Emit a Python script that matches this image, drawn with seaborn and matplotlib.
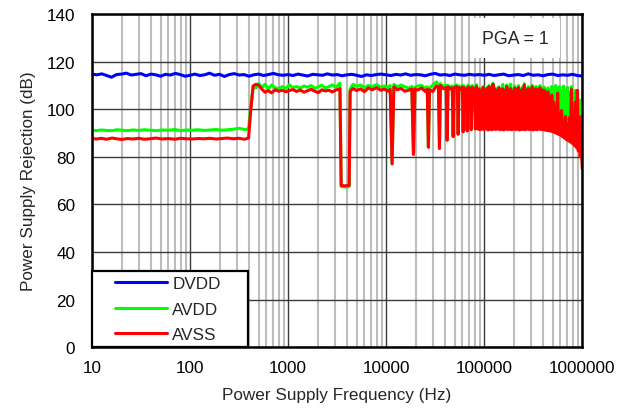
import numpy as np
import matplotlib
matplotlib.use("Agg")
import matplotlib.pyplot as plt
from matplotlib.lines import Line2D
from matplotlib.legend_handler import HandlerLine2D
from matplotlib.ticker import FixedLocator, LogLocator, NullFormatter
import seaborn as sns

# ---- data -----------------------------------------------------------------
# DVDD: its own (coarser) frequency sweep
DVDD_FREQ = [
    10, 11.2, 12.6, 14.1, 15.8, 17.8, 20, 22.4, 25.1, 28.2,
    31.6, 35.5, 39.8, 44.7, 50.1, 56.2, 63.1, 70.8, 79.4, 89.1,
    100, 112, 126, 141, 158, 178, 200, 224, 251, 282,
    316, 355, 398, 447, 501, 562, 631, 708, 794, 891,
    1000, 1120, 1260, 1410, 1580, 1780, 2000, 2240, 2510, 2820,
    3160, 3550, 3980, 4470, 5010, 5620, 6310, 7080, 7940, 8910,
    10000, 11200, 12600, 14100, 15800, 17800, 20000, 22400, 25100, 28200,
    31600, 35500, 39800, 44700, 50100, 56200, 63100, 70800, 79400, 89100,
    100000, 112000, 126000, 141000, 158000, 178000, 200000, 224000, 251000, 282000,
    316000, 355000, 398000, 447000, 501000, 562000, 631000, 708000, 794000, 891000,
    1000000,
]
DVDD_DB = [
    114.8, 114.5, 114.9, 114.2, 113.5, 114.6, 114.8, 115.2, 114.4, 114.7,
    115.0, 114.1, 114.8, 114.5, 113.9, 114.7, 114.4, 115.1, 114.6, 113.9,
    114.3, 114.8, 114.2, 114.5, 115.2, 114.3, 114.7, 113.8, 114.6, 115.0,
    114.4, 114.6, 113.9, 114.5, 114.8, 114.2, 114.6, 115.1, 114.5, 114.3,
    114.6, 114.2, 114.8, 114.4, 114.0, 114.7, 114.5, 114.3, 114.9, 114.4,
    114.6, 114.1, 114.5, 114.7, 114.3, 113.8, 114.5, 114.2, 114.6, 114.8,
    114.5, 114.2, 114.7, 114.4, 114.9, 114.3, 114.6, 114.5, 114.1, 114.7,
    115.1, 114.4, 114.6, 114.2, 114.8, 114.5, 114.3, 114.7, 114.4, 114.6,
    114.3, 114.7, 114.2, 114.5, 114.8, 114.1, 114.4, 114.6, 114.2, 114.9,
    114.3, 114.5, 114.1, 114.6, 114.8, 114.2, 114.5, 114.3, 114.7, 114.2,
    114.0,
]

# AVDD / AVSS share one sweep (the response chatters above ~87 kHz)
ANALOG_FREQ = [
    10, 11, 12.5, 14, 16, 18, 20, 23, 26, 30,
    34, 39, 45, 52, 60, 70, 80, 92, 105, 120,
    140, 160, 185, 210, 240, 275, 315, 360, 395,
    415, 440, 470, 500, 540, 580, 630, 680, 740, 800,
    870, 950, 1030, 1120, 1220, 1330, 1450, 1580, 1720, 1870,
    2030, 2210, 2400, 2600, 2830, 3080, 3380, 3480, 3800, 4200,
    4290, 4600, 5000, 5500, 6000, 6600, 7200, 8000, 8800, 9600,
    10400, 11000, 11500, 12000, 13000, 14200, 15500, 17000, 18300, 19000,
    19700, 21000, 23000, 25000, 26300, 27000, 27700, 30000, 32500, 34200,
    35000, 35800, 38500, 41000, 41900, 42800, 46000, 47300, 48300, 49300,
    52000, 53300, 54300, 55400, 58500, 60000, 61100, 62300, 65500, 67100,
    68500, 72000, 73700, 75300, 79500, 81500, 83500,
    87100, 89100, 91200, 93300, 95500, 97700, 100000, 102300, 104700, 107200,
    109600, 112200, 114800, 117500, 120200, 123000, 125900, 128800, 131800, 134900,
    138000, 141300, 144500, 147900, 151400, 154900, 158500, 162200, 166000, 169800,
    173800, 177800, 182000, 186200, 190500, 195000, 199500, 204200, 208900, 213800,
    218800, 223900, 229100, 234400, 239900, 245500, 251200, 257000, 263000, 269200,
    275400, 281800, 288400, 295100, 302000, 309000, 316200, 323600, 331100, 338800,
    346700, 354800, 363100, 371500, 380200, 389000, 398100, 407400, 416900, 426600,
    436500, 446700, 457100, 467700, 478600, 489800, 501200, 512900, 524800, 537000,
    549500, 562300, 575400, 588800, 602600, 616600, 631000, 645700, 660700, 676100,
    691800, 707900, 724400, 741300, 758600, 776200, 794300, 812800, 831800, 851100,
    871000, 891300, 912000, 933300, 955000, 977200, 1000000,
]
AVDD_DB = [
    91.2, 91.0, 91.3, 91.1, 91.0, 91.4, 91.2, 91.0, 91.3, 91.1,
    91.4, 91.2, 91.0, 91.3, 91.2, 91.5, 91.0, 91.3, 91.2, 91.4,
    91.1, 91.3, 91.5, 91.2, 91.4, 91.6, 92.0, 91.5, 91.7,
    100.5, 109.3, 109.0, 110.8, 109.2, 110.5, 108.6, 110.2, 109.0, 108.7,
    109.5, 108.8, 110.3, 109.1, 109.6, 108.9, 109.8, 109.3, 110.0, 108.8,
    109.4, 110.1, 109.0, 109.5, 110.3, 109.2, 111.0, 67.5, 67.3, 67.5,
    108.5, 110.5, 109.6, 110.2, 109.1, 110.0, 109.5, 110.4, 109.3, 109.8,
    109.2, 110.0, 77.5, 110.5, 109.4, 110.2, 109.5, 108.9, 109.6, 81.5,
    109.2, 109.8, 110.0, 108.8, 109.5, 84.2, 108.9, 110.2, 111.5, 110.4,
    83.7, 110.8, 109.5, 110.2, 87.1, 110.0, 109.3, 109.8, 88.6, 109.6,
    110.3, 109.5, 89.6, 109.9, 109.2, 110.1, 90.6, 109.8, 109.0, 91.0,
    110.2, 109.4, 91.5, 110.0, 109.3, 91.8, 110.4,
    92.0, 109.0, 92.0, 108.6, 92.2, 109.6, 92.0, 108.5, 92.1, 109.2,
    91.9, 110.0, 92.0, 108.2, 92.1, 111.0, 92.0, 109.0, 91.9, 108.6,
    92.0, 109.5, 92.1, 108.8, 92.0, 110.5, 91.9, 108.3, 92.0, 110.2,
    92.1, 109.5, 92.0, 110.6, 91.9, 108.5, 92.0, 109.8, 92.1, 109.0,
    92.0, 110.0, 91.9, 108.6, 92.0, 109.4, 92.0, 110.8, 91.9, 108.6,
    92.0, 109.5, 92.1, 108.4, 92.0, 110.2, 91.9, 109.0, 92.0, 109.6,
    92.1, 108.4, 92.0, 110.0, 91.9, 108.8, 92.0, 109.4, 91.8, 108.2,
    91.7, 109.0, 91.6, 107.8, 91.5, 109.6, 91.5, 108.4, 91.4, 110.0,
    91.3, 108.8, 91.2, 109.5, 91.1, 107.5, 91.0, 109.8, 90.8, 108.0,
    90.6, 109.2, 90.4, 107.0, 90.0, 109.5, 89.5, 106.5, 88.8, 108.0,
    88.0, 105.0, 86.5, 104.0, 83.0, 95.0, 77.5,
]
AVSS_DB = [
    87.7, 87.5, 87.8, 87.4, 87.9, 87.6, 87.3, 87.7, 87.5, 87.8,
    87.4, 87.6, 87.9, 87.5, 87.7, 87.4, 87.8, 87.6, 87.5, 87.7,
    87.6, 87.8, 87.5, 87.7, 87.9, 87.6, 87.8, 87.4, 87.9,
    99.0, 109.8, 110.5, 110.2, 108.5, 107.2, 107.8, 106.9, 108.2, 107.6,
    108.0, 107.4, 107.9, 108.3, 107.5, 108.1, 107.2, 107.8, 108.4, 107.6,
    107.0, 108.2, 107.7, 108.0, 107.3, 108.1, 108.6, 68.0, 67.8, 68.0,
    107.5, 108.8, 107.9, 108.6, 107.4, 109.0, 108.2, 109.1, 108.0, 108.5,
    107.6, 108.3, 77.0, 109.5, 108.2, 108.8, 107.6, 108.0, 108.5, 81.0,
    108.6, 108.1, 109.0, 107.5, 108.4, 84.0, 108.2, 107.5, 109.8, 109.2,
    83.5, 110.0, 108.6, 109.1, 87.0, 109.4, 108.5, 109.0, 88.5, 108.9,
    109.6, 108.8, 89.5, 109.2, 108.4, 109.3, 90.5, 109.0, 108.2, 90.9,
    109.4, 108.6, 91.4, 109.2, 108.5, 91.7, 109.6,
    91.6, 108.5, 91.4, 107.8, 91.7, 109.2, 91.5, 108.0, 91.8, 108.8,
    91.3, 109.5, 91.6, 107.6, 91.4, 110.5, 91.7, 108.4, 91.5, 107.9,
    91.8, 109.0, 91.4, 108.2, 91.6, 108.6, 91.3, 107.7, 91.7, 109.6,
    91.5, 108.1, 91.6, 108.7, 91.4, 107.5, 91.7, 108.9, 91.5, 108.3,
    91.6, 109.1, 91.3, 107.8, 91.5, 108.5, 91.6, 110.2, 91.4, 108.0,
    91.7, 108.7, 91.5, 107.6, 91.6, 109.4, 91.3, 108.2, 91.6, 108.6,
    91.4, 107.4, 91.7, 109.0, 91.5, 108.1, 91.4, 108.1, 91.2, 105.0,
    91.1, 107.4, 91.0, 104.5, 90.8, 106.0, 90.5, 103.0, 90.2, 100.5,
    89.8, 106.8, 89.4, 98.0, 89.0, 99.5, 88.4, 95.0, 87.8, 97.0,
    87.2, 94.0, 86.7, 96.5, 86.2, 108.5, 85.6, 99.0, 84.8, 103.0,
    84.0, 108.0, 82.5, 97.0, 80.0, 90.0, 75.0,
]

SERIES = [("DVDD", DVDD_FREQ, DVDD_DB, "#0000ff"),
          ("AVDD", ANALOG_FREQ, AVDD_DB, "#00ff00"),
          ("AVSS", ANALOG_FREQ, AVSS_DB, "#ff0000")]

X_TICKS = [10, 100, 1000, 10000, 100000, 1000000]
X_TICK_LABELS = ["10", "100", "1000", "10000", "100000", "1000000"]
Y_TICKS = [0, 20, 40, 60, 80, 100, 120, 140]

FONT = 12.3


class LeadLine(HandlerLine2D):
    """legend line that leaves a gap on its left, like the original"""
    def get_xdata(self, legend, xdescent, ydescent, width, height, fontsize):
        x = np.array([-xdescent + 0.26 * width, -xdescent + width])
        return x, x


sns.set_theme(style="white")
plt.rcParams["font.family"] = ["Liberation Sans", "DejaVu Sans"]

fig, ax = plt.subplots(figsize=(6.26, 4.10), dpi=100)
fig.subplots_adjust(left=0.147, right=0.930, bottom=0.151, top=0.963)

for name, freq, db, color in SERIES:
    sns.lineplot(x=freq, y=db, ax=ax, color=color, lw=2.2, label=name,
                 estimator=None, sort=False)

ax.set_xscale("log")
ax.set_xlim(10, 1e6)
ax.set_ylim(0, 140)
ax.xaxis.set_major_locator(FixedLocator(X_TICKS))
ax.set_xticklabels(X_TICK_LABELS)
ax.xaxis.set_minor_locator(LogLocator(base=10, subs=range(2, 10), numticks=20))
ax.xaxis.set_minor_formatter(NullFormatter())
ax.set_yticks(Y_TICKS)

ax.set_axisbelow(True)
ax.grid(which="minor", axis="x", color="#bdbdbd", lw=1.5)
ax.grid(which="major", axis="both", color="#3a3a3a", lw=1.0)
ax.tick_params(which="both", length=0, labelsize=FONT, colors="black")
ax.tick_params(axis="x", pad=9)
ax.tick_params(axis="y", pad=12)
for s in ax.spines.values():
    s.set_color("black")
    s.set_linewidth(1.8)

ax.set_xlabel("Power Supply Frequency (Hz)", fontsize=FONT, labelpad=9)
ax.set_ylabel("Power Supply Rejection (dB)", fontsize=FONT, labelpad=8)

ax.text(0.863, 0.928, "PGA = 1", transform=ax.transAxes, fontsize=FONT + 0.5,
        ha="center", va="center",
        bbox=dict(boxstyle="square,pad=0.65", fc="white", ec="none"))

leg = ax.legend(loc="lower left", bbox_to_anchor=(0, 0, 0.318, 0.24),
                mode="expand", borderaxespad=0, borderpad=0.3,
                handlelength=4.1, handletextpad=0.3, labelspacing=0.6,
                fontsize=FONT, fancybox=False, framealpha=1,
                handler_map={Line2D: LeadLine()})
leg.get_frame().set_edgecolor("black")
leg.get_frame().set_linewidth(1.6)

fig.savefig("out.png", dpi=100)
